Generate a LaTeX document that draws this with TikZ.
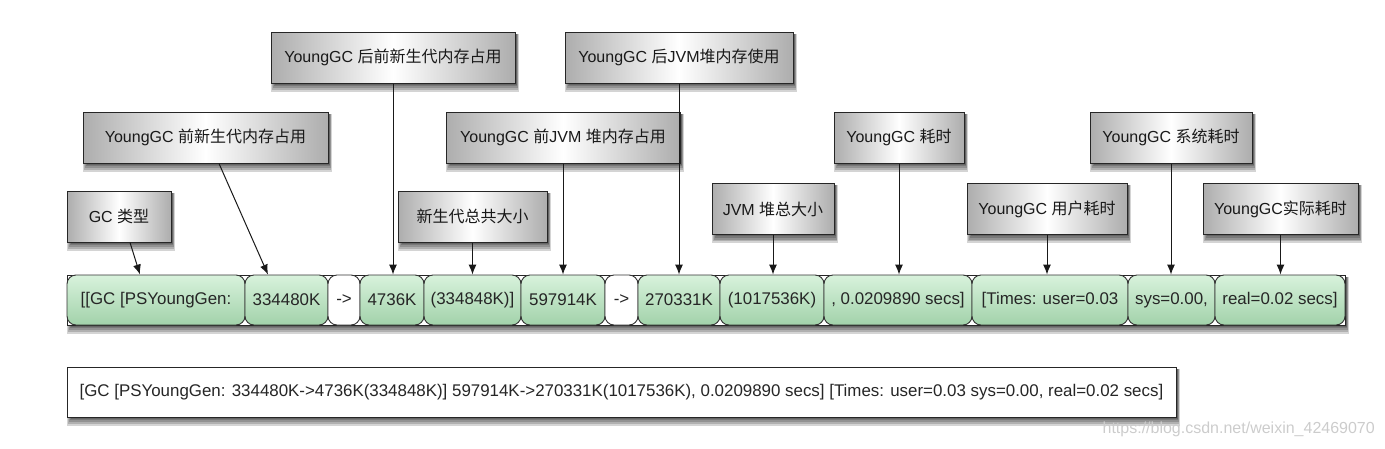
\documentclass[tikz,border=0pt]{standalone}
\usepackage{fontspec}
\setmainfont{Liberation Sans}
\newfontfamily\cjk{Noto Sans CJK SC}
\usetikzlibrary{arrows.meta,backgrounds}

\definecolor{cellTop}{HTML}{D8F2DC}
\definecolor{cellBot}{HTML}{A2D2AA}
\definecolor{boxSide}{HTML}{ADADAD}

\tikzset{
  lbl/.style={draw=black!85, line width=1pt, left color=boxSide, right color=boxSide,
    middle color=white, inner sep=0pt, minimum height=51pt, text=black!90,
    font=\fontsize{16}{19}\selectfont},
  cell/.style={draw=black!80, line width=0.9pt, rounded corners=9pt, minimum height=50pt,
    inner sep=0pt, text=black!85, font=\fontsize{16.9}{20}\selectfont},
  gcell/.style={top color=cellTop, bottom color=cellBot},
  wcell/.style={fill=white},
  ptr/.style={line width=1pt, draw=black!90, -{Latex[length=10pt,width=8pt]}},
  shd/.style={fill=black, opacity=0.17},
}

\begin{document}
\begin{tikzpicture}[x=1pt,y=-1pt]
\useasboundingbox (0,0) rectangle (1385,448);

% Rahmen der Zeile
\node[draw=black!85, line width=1pt, fill=white, minimum width=1278pt, minimum height=50pt,
  inner sep=0pt] (row) at (706,300) {};

% Felder: Name/links/rechts/Stil/Text
\foreach \n/\l/\r/\s/\t in {
  gc/67/245/gcell/{[[GC [PSYoungGen:},
  yb/245/328/gcell/334480K,
  a1/328/360/wcell/{->},
  ya/360/424/gcell/4736K,
  yt/424/521/gcell/{(334848K)]},
  hb/521/605/gcell/597914K,
  a2/605/638/wcell/{->},
  ha/638/720/gcell/270331K,
  ht/720/824/gcell/{(1017536K)},
  gt/824/972/gcell/{, 0.0209890 secs]},
  tu/972/1128/gcell/{[Times: user=0.03},
  ts/1128/1215/gcell/{sys=0.00,},
  tr/1215/1345/gcell/{real=0.02 secs]}}{
  \node[cell, \s, minimum width=\r-\l] (\n) at ({(\l+\r)/2},300) {\t};
}

% Beschriftungen: Name/x/y/Breite/Text
\foreach \n/\x/\y/\w/\t in {
  gctype/119/216.5/104/{GC {\cjk 类型}},
  yngbefore/205.5/137.5/245/{YoungGC {\cjk 前新生代内存占用}},
  yngafter/393/57.5/244/{YoungGC {\cjk 后前新生代内存占用}},
  yngtotal/472.5/216.5/149/{{\cjk 新生代总共大小}},
  heapbefore/563/137.5/234/{YoungGC {\cjk 前}JVM {\cjk 堆内存占用}},
  heapafter/679/57.5/228/{YoungGC {\cjk 后}JVM{\cjk 堆内存使用}},
  heaptotal/773/209/122/{JVM {\cjk 堆总大小}},
  gctime/899/137.5/130/{YoungGC {\cjk 耗时}},
  usertime/1047/209/160/{YoungGC {\cjk 用户耗时}},
  systime/1171/137.5/162/{YoungGC {\cjk 系统耗时}},
  realtime/1280.5/209/155/{YoungGC{\cjk 实际耗时}}}{
  \node[lbl, minimum width=\w] (\n) at (\x,\y) {\t};
}

% Pfeile
\draw[ptr] ([xshift=11pt]gctype.south) -- ([xshift=-16pt]gc.north);
\draw[ptr] ([xshift=13.5pt]yngbefore.south) -- ([xshift=-18.5pt]yb.north);
\foreach \a/\b in {yngafter/ya, yngtotal/yt, heapbefore/hb, heapafter/ha,
  heaptotal/ht, gctime/gt, usertime/tu, systime/ts, realtime/tr}{
  \draw[ptr] (\a.south) -- (\a.south |- \b.north);
}

% Gesamte Logzeile
\node[draw=black!85, line width=1pt, fill=white, minimum width=1109pt, minimum height=50pt,
  inner sep=0pt, text=black!85, font=\fontsize{16.9}{20}\selectfont] (log) at (621.5,392)
  {[GC [PSYoungGen: 334480K->4736K(334848K)] 597914K->270331K(1017536K), 0.0209890 secs] [Times: user=0.03 sys=0.00, real=0.02 secs]};

\node[text=gray!40, font=\fontsize{16}{19}\selectfont, inner sep=0pt, anchor=east] (mark) at (1375,429)
  {https://blog.csdn.net/weixin\_42469070};

% Schatten (weich, unten rechts)
\begin{scope}[on background layer]
\foreach \n in {row, log, gctype, yngbefore, yngafter, yngtotal, heapbefore, heapafter,
  heaptotal, gctime, usertime, systime, realtime}{
  \foreach \k in {0,...,4}{
    \fill[shd] ([shift={({4pt-\k*0.8pt},{-1pt-\k*1.8pt})}]\n.south west)
      rectangle ([shift={({1pt+\k*0.6pt},-2pt)}]\n.north east);
  }
}
\end{scope}
\end{tikzpicture}
\end{document}
